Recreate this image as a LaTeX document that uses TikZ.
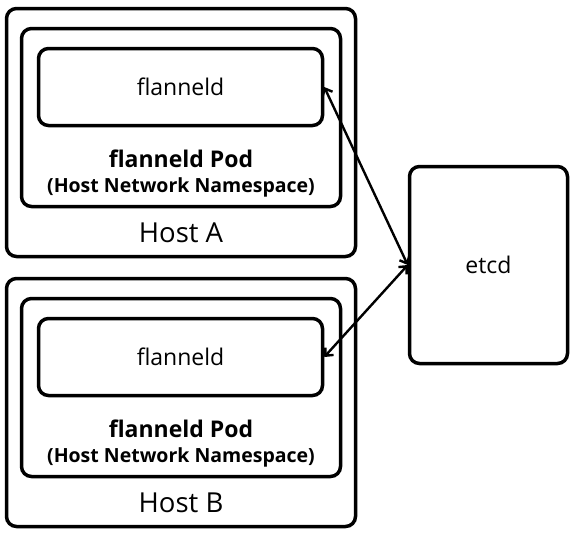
\documentclass[tikz,border=0pt]{standalone}
\usepackage{fontspec}
\setmainfont{Open Sans}
\usetikzlibrary{arrows.meta}

\begin{document}
\begin{tikzpicture}[x=1pt,y=-1pt]
        \tikzset{box/.style = {shape=rectangle,draw,line width=3.5pt,rounded corners=10pt,inner sep=0pt}}
        \tikzset{edge/.style = {{Straight Barb[length=6pt,width=11pt]}-{Straight Barb[length=6pt,width=11pt]},line width=2.4pt}}
        \useasboundingbox (0,0) rectangle (576,536);
        % hosts
        \node[box,minimum width=349pt,minimum height=248pt] (hostA) at (181,132.5) {};
        \node[box,minimum width=349pt,minimum height=248pt] (hostB) at (181,402.5) {};
        % pods
        \node[box,minimum width=319pt,minimum height=178pt] (podA) at (181,117.5) {};
        \node[box,minimum width=319pt,minimum height=178pt] (podB) at (181,387.5) {};
        % daemons
        \node[box,minimum width=284pt,minimum height=77pt] (flanA) at (180.5,87) {\fontsize{23}{27}\selectfont flanneld};
        \node[box,minimum width=284pt,minimum height=77pt] (flanB) at (180.5,357) {\fontsize{23}{27}\selectfont flanneld};
        \node[box,minimum width=158pt,minimum height=197pt] (etcd) at (488.5,265) {\fontsize{23}{27}\selectfont etcd};
        % labels
        \node (podlabA) at (181,159) {\fontsize{23}{27}\selectfont\bfseries flanneld Pod};
        \node (nsA) at (181,187) {\fontsize{19.5}{23}\selectfont\bfseries (Host Network Namespace)};
        \node (hostlabA) at (181,233) {\fontsize{27.5}{32}\selectfont Host A};
        \node (podlabB) at (181,429) {\fontsize{23}{27}\selectfont\bfseries flanneld Pod};
        \node (nsB) at (181,457) {\fontsize{19.5}{23}\selectfont\bfseries (Host Network Namespace)};
        \node (hostlabB) at (181,503) {\fontsize{27.5}{32}\selectfont Host B};
        % edges
        \draw[edge] (flanA.east) -- (etcd.west);
        \draw[edge] (etcd.west) -- (flanB.east);
\end{tikzpicture}
\end{document}
